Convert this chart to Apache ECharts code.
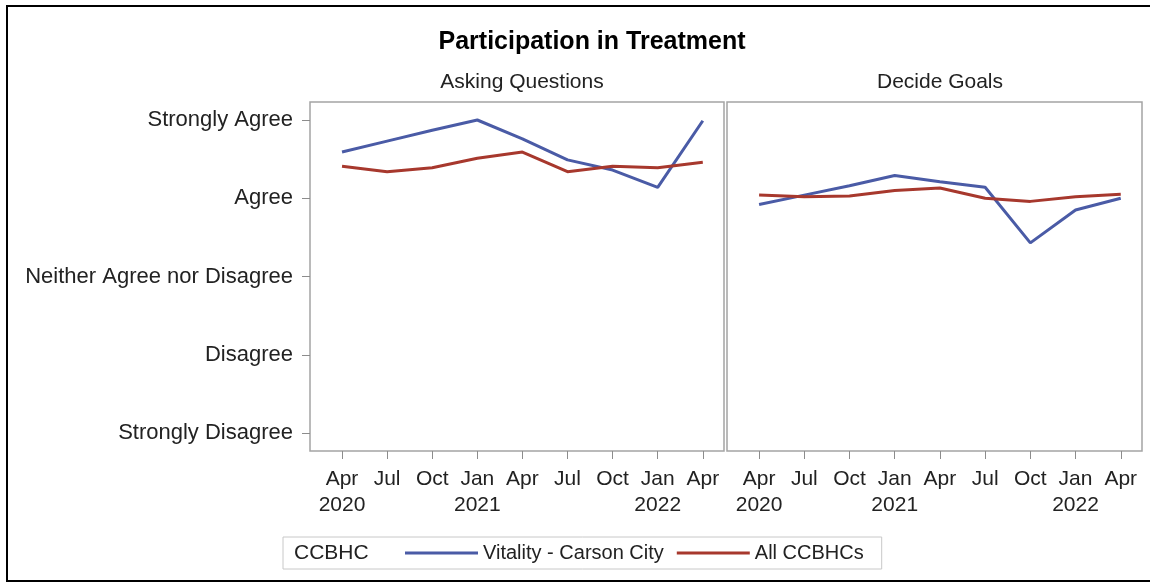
<!DOCTYPE html>
<html>
<head>
<meta charset="utf-8">
<script src="https://cdn.jsdelivr.net/npm/echarts@6/dist/echarts.min.js"></script>
<style>
  html, body { margin: 0; padding: 0; background: #fff; }
  #chart { width: 1150px; height: 584px; }
</style>
</head>
<body>
<div id="chart"></div>
<script>
// quarter labels (x axis), same for both panels
var quarters = ['Apr\n2020', 'Jul', 'Oct', 'Jan\n2021', 'Apr', 'Jul', 'Oct', 'Jan\n2022', 'Apr'];
// y levels, 1..5
var levels = ['Strongly Disagree', 'Disagree', 'Neither Agree nor Disagree', 'Agree', 'Strongly Agree'];
var panels = ['Asking Questions', 'Decide Goals'];

// Asking Questions
var askVitality = [4.59, 4.73, 4.87, 5.0, 4.76, 4.49, 4.36, 4.14, 4.99];
var askAll = [4.41, 4.34, 4.39, 4.51, 4.59, 4.34, 4.41, 4.39, 4.46];
// Decide Goals
var goalVitality = [3.92, 4.04, 4.16, 4.29, 4.21, 4.14, 3.43, 3.85, 4.0];
var goalAll = [4.04, 4.02, 4.03, 4.10, 4.13, 4.0, 3.96, 4.02, 4.05];

var BLUE = '#4a5ba6';
var RED = '#a7382d';
var FONT = '"Liberation Sans", Arial, sans-serif';

function pts(arr) {
  return arr.map(function (v, i) { return [i, v]; });
}
var idx = quarters.map(function (q, i) { return i; });

function xAxis(gi) {
  return {
    type: 'value', gridIndex: gi, min: -0.71, max: 8.47,
    axisLine: { show: false, onZero: false },
    splitLine: { show: false },
    axisTick: { show: true, length: 8, lineStyle: { color: '#8c8c8c' }, customValues: idx },
    axisLabel: {
      customValues: idx, margin: 15, color: '#222', fontSize: 21, fontFamily: FONT, lineHeight: 26,
      formatter: function (v) { return quarters[Math.round(v)]; }
    }
  };
}
function yAxis(gi, labels) {
  return {
    type: 'value', gridIndex: gi, min: 0.77, max: 5.23,
    axisLine: { show: false, onZero: false },
    splitLine: { show: false },
    axisTick: { show: labels, length: 8, lineStyle: { color: '#8c8c8c' }, customValues: [1, 2, 3, 4, 5] },
    axisLabel: {
      show: labels, customValues: [1, 2, 3, 4, 5], margin: 17, color: '#222', fontSize: 22, fontFamily: FONT,
      formatter: function (v) { return levels[Math.round(v) - 1]; }
    }
  };
}
function line(name, data, color, gi) {
  return {
    name: name, type: 'line', xAxisIndex: gi, yAxisIndex: gi, data: pts(data),
    symbol: 'none', lineStyle: { color: color, width: 3 }, itemStyle: { color: color }
  };
}

var chart = echarts.init(document.getElementById('chart'));
chart.setOption({
  animation: false,
  title: [
    { text: 'Participation in Treatment', left: 587, top: 25, textAlign: 'center',
      textStyle: { fontSize: 25, fontWeight: 'bold', color: '#000', fontFamily: FONT } },
    { text: panels[0], left: 517, top: 67, textAlign: 'center',
      textStyle: { fontSize: 21, fontWeight: 'normal', color: '#222', fontFamily: FONT } },
    { text: panels[1], left: 935, top: 67, textAlign: 'center',
      textStyle: { fontSize: 21, fontWeight: 'normal', color: '#222', fontFamily: FONT } }
  ],
  grid: [
    { left: 310, top: 102, width: 414, height: 349, show: true, borderColor: '#a4a4a4', borderWidth: 1.5 },
    { left: 727, top: 102, width: 415, height: 349, show: true, borderColor: '#a4a4a4', borderWidth: 1.5 }
  ],
  xAxis: [xAxis(0), xAxis(1)],
  yAxis: [yAxis(0, true), yAxis(1, false)],
  legend: {
    left: 283, top: 537, padding: [6, 18, 6, 122],
    borderColor: '#c8c8c8', borderWidth: 1,
    itemWidth: 73, itemHeight: 3, itemGap: 13, icon: 'rect',
    textStyle: { fontSize: 20, color: '#222', fontFamily: FONT },
    data: ['Vitality - Carson City', 'All CCBHCs']
  },
  graphic: [
    { type: 'rect', shape: { x: 7, y: 6, width: 1150, height: 575 }, silent: true,
      style: { fill: 'none', stroke: '#000', lineWidth: 2 } },
    { type: 'text', left: 294, top: 543,
      style: { text: 'CCBHC', fontSize: 21, fill: '#222', fontFamily: FONT } }
  ],
  series: [
    line('Vitality - Carson City', askVitality, BLUE, 0),
    line('All CCBHCs', askAll, RED, 0),
    line('Vitality - Carson City', goalVitality, BLUE, 1),
    line('All CCBHCs', goalAll, RED, 1)
  ]
});
</script>
</body>
</html>
